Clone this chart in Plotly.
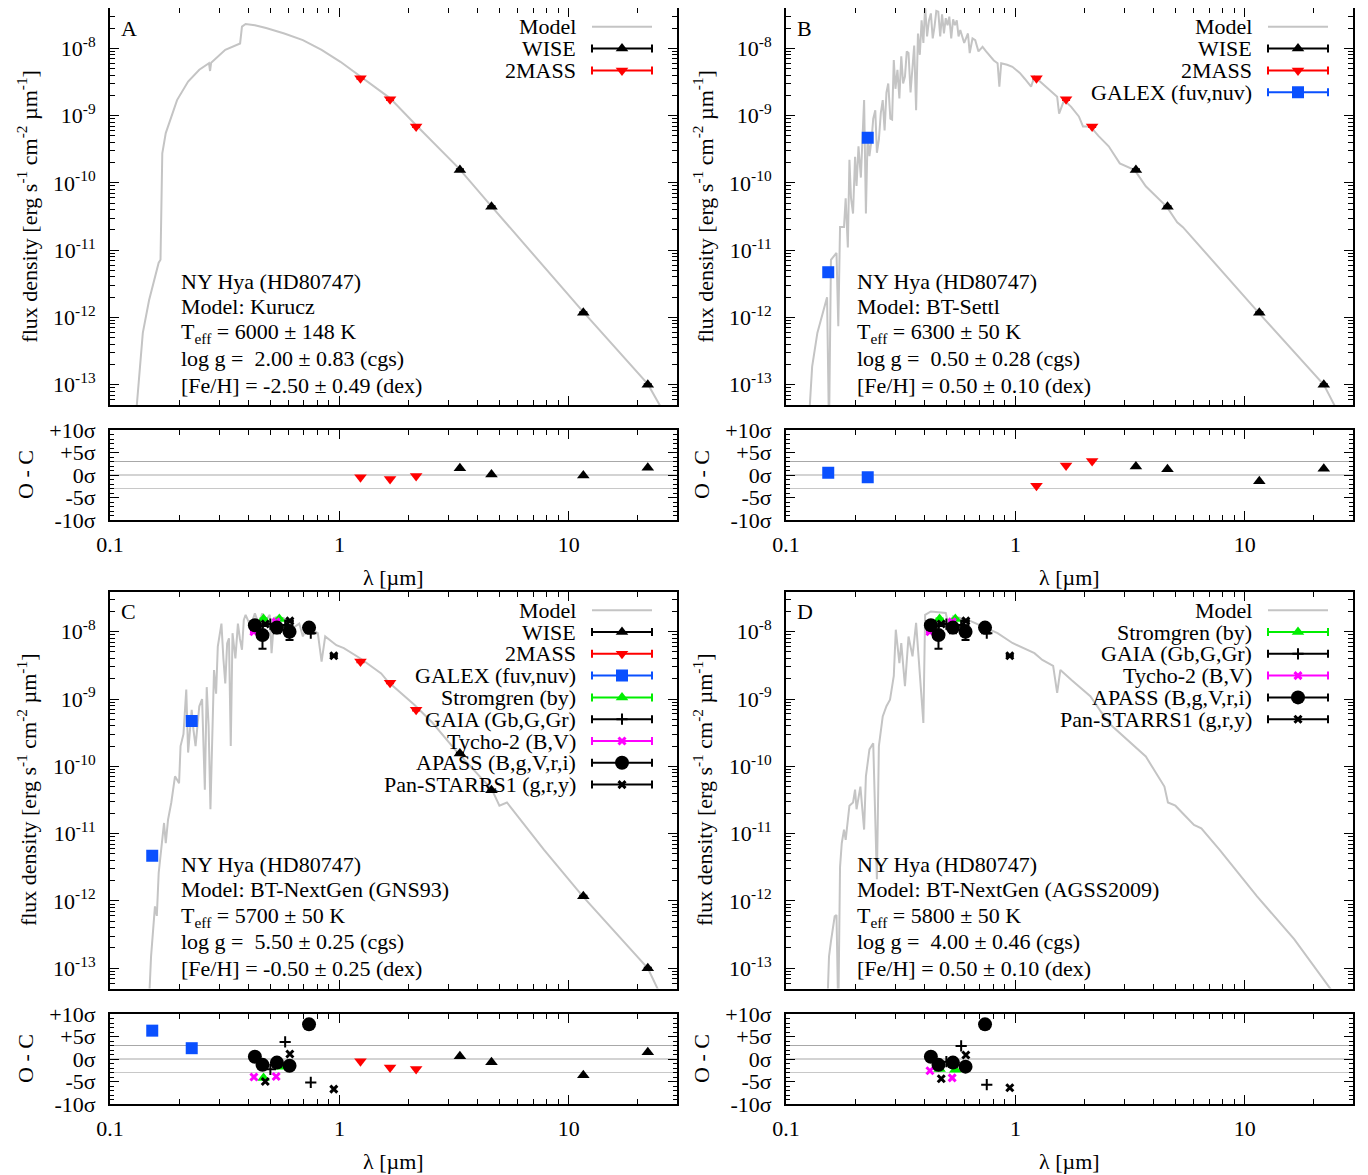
import numpy as np
import plotly.graph_objects as go

W, H = 1368, 1175
FONT = "Liberation Serif"
FS = 22
PAGE_OFFSET = 8  # the page body margin shifts the figure by this many pixels

# ---------------- photometry (wavelength in micron, flux in erg/s/cm2/um) ----------------
LAM_2MASS = [1.235, 1.662, 2.159]
FLUX_2MASS = [3.6e-9, 1.75e-9, 6.9e-10]
ERR_2MASS = [8e-11, 4e-11, 1.5e-11]

LAM_WISE = [3.35, 4.60, 11.56, 22.08]
FLUX_WISE = [1.55e-10, 4.4e-11, 1.17e-12, 1.0e-13]
ERR_WISE = [4e-12, 1e-12, 2e-14, 2e-15]

LAM_GALEX = [0.1528, 0.2271]
FLUX_GALEX = [4.7e-12, 4.7e-10]
ERR_GALEX = [2e-13, 1e-11]

LAM_STROM = [0.467, 0.547]
FLUX_STROM = [1.55e-8, 1.55e-8]
ERR_STROM = [2e-10, 2e-10]

LAM_GAIA = [0.50, 0.58, 0.75]
FLUX_GAIA = [1.3e-8, 1.25e-8, 9.5e-9]
ERR_GAIA = [1e-10, 1e-10, 1e-10]

LAM_TYCHO = [0.424, 0.530]
FLUX_TYCHO = [1.0e-8, 1.4e-8]
ERR_TYCHO = [3e-10, 3e-10]

LAM_APASS = [0.428, 0.462, 0.534, 0.606, 0.737]
FLUX_APASS = [1.25e-8, 8.9e-9, 1.15e-8, 1.0e-8, 1.15e-8]
ERR_APASS = [1.0e-9, 3.3e-9, 2.0e-9, 2.5e-9, 1.0e-9]

LAM_PS = [0.475, 0.608, 0.945]
FLUX_PS = [1.3e-8, 1.45e-8, 4.4e-9]
ERR_PS = [2e-10, 2e-10, 1e-10]

# ---------------- residuals (O - C in sigma) ----------------
RES_A_2MASS = [-0.5, -0.9, -0.2]
RES_A_WISE = [1.5, 0.1, -0.1, 1.6]

RES_B_GALEX = [0.5, -0.5]
RES_B_2MASS = [-2.4, 2.1, 3.1]
RES_B_WISE = [1.9, 1.3, -1.4, 1.4]

RES_C_GALEX = [6.3, 2.4]
RES_C_2MASS = [-0.5, -1.9, -2.2]
RES_C_WISE = [0.6, -0.7, -3.6, 1.5]
RES_C_STROM = [-4.2, -1.7]
RES_C_GAIA = [-2.3, 3.8, -5.2]
RES_C_TYCHO = [-4.0, -3.9]
RES_C_APASS = [0.5, -1.3, -0.8, -1.5, 7.7]
RES_C_PS = [-5.0, 1.1, -6.7]

RES_D_STROM = [-2.2, -2.4]
RES_D_GAIA = [-0.6, 2.9, -5.7]
RES_D_TYCHO = [-2.6, -4.2]
RES_D_APASS = [0.5, -1.3, -0.8, -1.7, 7.7]
RES_D_PS = [-4.4, 0.9, -6.4]

# ---------------- model spectra ----------------
MODEL_A_LAM = [0.128, 0.139, 0.148, 0.163, 0.166, 0.169, 0.175, 0.179, 0.196, 0.219, 0.245,
               0.270, 0.273, 0.276, 0.318, 0.369, 0.376, 0.390, 0.428, 0.479, 0.575, 0.693,
               0.836, 1.01, 1.235, 1.66, 2.16, 3.31, 4.57, 11.5, 22.1, 25.5]
MODEL_A_FLUX = [2e-14, 5.9e-13, 1.8e-12, 6.5e-12, 7.2e-12, 2.75e-10, 5.5e-10, 6.9e-10, 1.7e-9, 3.2e-9, 4.8e-9,
                6.0e-9, 4.6e-9, 6.1e-9, 9.5e-9, 1.18e-8, 2.1e-8, 2.3e-8, 2.2e-8, 2.0e-8, 1.66e-8, 1.32e-8,
                9.5e-9, 6.3e-9, 3.8e-9, 1.82e-9, 7.2e-10, 1.66e-10, 4.6e-11, 1.23e-12, 1.02e-13, 4.3e-14]

MODEL_B_LAM = [0.125, 0.130, 0.137, 0.151, 0.154, 0.157, 0.166, 0.169, 0.172, 0.179,
               0.182, 0.186, 0.189, 0.192, 0.196, 0.200, 0.203, 0.207, 0.212, 0.216,
               0.219, 0.223, 0.227, 0.231, 0.236, 0.240, 0.245, 0.249, 0.254, 0.259,
               0.264, 0.269, 0.274, 0.279, 0.285, 0.290, 0.295, 0.300, 0.306, 0.312,
               0.318, 0.324, 0.330, 0.336, 0.342, 0.349, 0.356, 0.362, 0.369, 0.376,
               0.383, 0.390, 0.397, 0.404, 0.412, 0.420, 0.428, 0.436, 0.444, 0.452,
               0.461, 0.470, 0.479, 0.488, 0.497, 0.506, 0.515, 0.525, 0.535, 0.545,
               0.555, 0.565, 0.575, 0.598, 0.621, 0.632, 0.650, 0.668, 0.690, 0.719,
               0.745, 0.776, 0.805, 0.836, 0.851, 0.867, 0.920, 0.970, 1.045, 1.10,
               1.17, 1.21, 1.31, 1.40, 1.52, 1.55, 1.63, 1.75, 1.89, 1.97,
               2.12, 2.30, 2.55, 2.85, 3.31, 3.70, 4.57, 5.07, 5.37, 11.5,
               22.1, 25.1]
MODEL_B_FLUX = [2e-14, 1.86e-13, 5.9e-13, 2.0e-12, 2e-14, 7.2e-12, 9.1e-12, 7.4e-13, 2.2e-11, 2.2e-11,
                5.9e-11, 1.1e-11, 2.2e-10, 6e-11, 3.5e-11, 2.45e-10, 9e-11, 3.5e-10, 1.2e-10, 6e-10,
                1.7e-9, 3.5e-11, 5.5e-10, 2.5e-10, 4.4e-10, 9e-10, 1.2e-9, 2.8e-10, 4.4e-10, 1.1e-9,
                1.7e-9, 6e-10, 2.2e-9, 3.0e-9, 9e-10, 8.7e-10, 6.7e-9, 2.5e-9, 4.8e-9, 1.8e-9,
                7.6e-9, 3.0e-9, 3.8e-9, 9e-9, 8.5e-9, 2.2e-9, 6.0e-9, 1.1e-8, 1.2e-9, 1.66e-8,
                8e-9, 2.6e-8, 1.2e-8, 4.2e-8, 1.5e-8, 2.6e-8, 3.3e-8, 1.4e-8, 2.1e-8, 3.6e-8,
                3.5e-8, 1.5e-8, 3.2e-8, 1.66e-8, 2.8e-8, 2.2e-8, 2.95e-8, 1.4e-8, 2.7e-8, 2.2e-8,
                2.6e-8, 1.5e-8, 1.87e-8, 1.2e-8, 1.66e-8, 8.5e-9, 1.4e-8, 1.32e-8, 9e-9, 1.05e-8,
                9.0e-9, 7.6e-9, 6.6e-9, 6.0e-9, 2.7e-9, 6.0e-9, 5.7e-9, 5.3e-9, 4.3e-9, 3.5e-9,
                2.7e-9, 3.8e-9, 3.0e-9, 2.5e-9, 1.9e-9, 1.07e-9, 1.7e-9, 1.35e-9, 9.7e-10, 6.9e-10,
                6.9e-10, 5.0e-10, 3.5e-10, 1.95e-10, 1.55e-10, 8.9e-11, 4.4e-11, 2.6e-11, 2.2e-11, 1.17e-12,
                1.0e-13, 4.3e-14]

MODEL_C_LAM = [0.147, 0.151, 0.157, 0.160, 0.163, 0.169, 0.172, 0.175, 0.179, 0.185,
               0.192, 0.200, 0.203, 0.209, 0.215, 0.219, 0.227, 0.231, 0.236, 0.245,
               0.252, 0.259, 0.264, 0.269, 0.274, 0.284, 0.290, 0.295, 0.306, 0.312,
               0.318, 0.324, 0.330, 0.336, 0.342, 0.352, 0.361, 0.368, 0.376, 0.383,
               0.390, 0.410, 0.428, 0.445, 0.461, 0.480, 0.497, 0.506, 0.520, 0.535,
               0.575, 0.620, 0.668, 0.693, 0.719, 0.805, 0.836, 0.867, 0.970, 1.045,
               1.235, 1.52, 1.63, 2.12, 2.55, 3.19, 4.62, 4.98, 5.37, 7.78,
               11.5, 22.1, 25.1]
MODEL_C_FLUX = [2e-14, 1.5e-13, 8.3e-13, 6.0e-13, 2.6e-12, 8.1e-12, 1.44e-11, 7.2e-12, 1.6e-11, 2.9e-11,
                7.1e-11, 5.6e-11, 2.0e-10, 3.0e-10, 1.38e-9, 1.6e-10, 6.9e-10, 3.5e-10, 2.0e-10, 7.8e-10,
                1.0e-9, 4.5e-11, 1.5e-9, 4.0e-10, 2.3e-11, 2.7e-9, 1.2e-9, 6.0e-9, 1.32e-8, 4.0e-9,
                1.7e-9, 6.7e-9, 8.0e-9, 2.0e-10, 9.5e-9, 4.0e-9, 1.32e-8, 8.0e-9, 5.4e-9, 1.5e-8,
                1.78e-8, 1.2e-8, 1.87e-8, 1.3e-8, 1.87e-8, 1.5e-8, 1.78e-8, 4.8e-9, 1.6e-8, 1.67e-8,
                1.58e-8, 1.1e-8, 1.32e-8, 8.5e-9, 1.19e-8, 9.5e-9, 3.6e-9, 8.5e-9, 6.3e-9, 5.7e-9,
                4.0e-9, 2.4e-9, 1.8e-9, 8.2e-10, 4.4e-10, 1.77e-10, 4.5e-11, 2.6e-11, 2.9e-11, 5.8e-12,
                1.17e-12, 1.0e-13, 4e-14]

MODEL_D_LAM = [0.151, 0.154, 0.157, 0.163, 0.166, 0.169, 0.172, 0.175, 0.179, 0.182,
               0.189, 0.196, 0.200, 0.203, 0.211, 0.219, 0.223, 0.231, 0.240, 0.249,
               0.254, 0.264, 0.274, 0.284, 0.295, 0.301, 0.312, 0.318, 0.330, 0.342,
               0.356, 0.369, 0.397, 0.404, 0.428, 0.497, 0.515, 0.535, 0.621, 0.719,
               0.836, 0.970, 1.21, 1.31, 1.46, 1.52, 1.57, 1.76, 2.12, 2.55,
               3.07, 3.70, 4.46, 4.62, 4.98, 6.0, 6.46, 7.78, 11.3, 16.4, 24.7]
MODEL_D_FLUX = [2e-14, 1.5e-13, 2.5e-13, 5.9e-13, 6.2e-13, 2e-14, 3.2e-12, 7.2e-12, 1.15e-11, 8.1e-12,
                2.6e-11, 2.9e-11, 4.5e-11, 2.3e-11, 5.0e-11, 1.15e-11, 7.1e-11, 1.78e-10, 2.2e-10, 2.1e-12,
                2.0e-10, 5.5e-10, 7.8e-10, 9.8e-10, 2.2e-9, 1.07e-8, 3.4e-9, 6.8e-9, 1.55e-9, 8.5e-9,
                4.3e-9, 1.35e-8, 4.4e-10, 1.78e-8, 2.0e-8, 1.9e-8, 1.07e-8, 1.7e-8, 1.5e-8, 1.2e-8,
                9.5e-9, 6.8e-9, 4.8e-9, 3.8e-9, 3.1e-9, 1.23e-9, 2.7e-9, 1.9e-9, 1.1e-9, 4.4e-10,
                2.5e-10, 1.4e-10, 5.0e-11, 2.9e-11, 2.6e-11, 1.35e-11, 1.2e-11, 5.7e-12, 1.17e-12, 2.7e-13, 4e-14]

INFO_A = ["NY Hya (HD80747)", "Model: Kurucz", "T<sub>eff</sub> = 6000 ± 148 K",
          "log g = \u00a02.00 ± 0.83 (cgs)", "[Fe/H] = -2.50 ± 0.49 (dex)"]
INFO_B = ["NY Hya (HD80747)", "Model: BT-Settl", "T<sub>eff</sub> = 6300 ± 50 K",
          "log g = \u00a00.50 ± 0.28 (cgs)", "[Fe/H] = 0.50 ± 0.10 (dex)"]
INFO_C = ["NY Hya (HD80747)", "Model: BT-NextGen (GNS93)", "T<sub>eff</sub> = 5700 ± 50 K",
          "log g = \u00a05.50 ± 0.25 (cgs)", "[Fe/H] = -0.50 ± 0.25 (dex)"]
INFO_D = ["NY Hya (HD80747)", "Model: BT-NextGen (AGSS2009)", "T<sub>eff</sub> = 5800 ± 50 K",
          "log g = \u00a04.00 ± 0.46 (cgs)", "[Fe/H] = 0.50 ± 0.10 (dex)"]

# ---------------- styles ----------------
STYLE = {
    "WISE": dict(symbol="triangle-up", color="black", size=11, label="WISE"),
    "2MASS": dict(symbol="triangle-down", color="#ff0000", size=11, label="2MASS"),
    "GALEX": dict(symbol="square", color="#0a50ff", size=12, label="GALEX (fuv,nuv)"),
    "STROM": dict(symbol="triangle-up", color="#00ee00", size=11, label="Stromgren (by)"),
    "GAIA": dict(symbol="cross-thin", color="black", size=8, label="GAIA (Gb,G,Gr)", lw=2),
    "TYCHO": dict(symbol="x-thin", color="#ff00ff", size=7, label="Tycho-2 (B,V)", lw=3),
    "APASS": dict(symbol="circle", color="black", size=14, label="APASS (B,g,V,r,i)"),
    "PS": dict(symbol="x-thin", color="black", size=7, label="Pan-STARRS1 (g,r,y)", lw=3),
}
DATA = {
    "WISE": (LAM_WISE, FLUX_WISE, ERR_WISE),
    "2MASS": (LAM_2MASS, FLUX_2MASS, ERR_2MASS),
    "GALEX": (LAM_GALEX, FLUX_GALEX, ERR_GALEX),
    "STROM": (LAM_STROM, FLUX_STROM, ERR_STROM),
    "GAIA": (LAM_GAIA, FLUX_GAIA, ERR_GAIA),
    "TYCHO": (LAM_TYCHO, FLUX_TYCHO, ERR_TYCHO),
    "APASS": (LAM_APASS, FLUX_APASS, ERR_APASS),
    "PS": (LAM_PS, FLUX_PS, ERR_PS),
}

PANELS = [
    dict(letter="A", x0=110, x1=677, ytop=8.3, ybot=405, rtop=430, rbot=520,
         model=(MODEL_A_LAM, MODEL_A_FLUX), info=INFO_A,
         sets=[("WISE", RES_A_WISE), ("2MASS", RES_A_2MASS)]),
    dict(letter="B", x0=786, x1=1353, ytop=8.3, ybot=405, rtop=430, rbot=520,
         model=(MODEL_B_LAM, MODEL_B_FLUX), info=INFO_B,
         sets=[("WISE", RES_B_WISE), ("2MASS", RES_B_2MASS), ("GALEX", RES_B_GALEX)]),
    dict(letter="C", x0=110, x1=677, ytop=591.7, ybot=988.5, rtop=1014, rbot=1104,
         model=(MODEL_C_LAM, MODEL_C_FLUX), info=INFO_C,
         sets=[("WISE", RES_C_WISE), ("2MASS", RES_C_2MASS), ("GALEX", RES_C_GALEX),
               ("STROM", RES_C_STROM), ("GAIA", RES_C_GAIA), ("TYCHO", RES_C_TYCHO),
               ("APASS", RES_C_APASS), ("PS", RES_C_PS)]),
    dict(letter="D", x0=786, x1=1353, ytop=591.7, ybot=988.5, rtop=1014, rbot=1104,
         model=(MODEL_D_LAM, MODEL_D_FLUX), info=INFO_D,
         sets=[("STROM", RES_D_STROM), ("GAIA", RES_D_GAIA), ("TYCHO", RES_D_TYCHO),
               ("APASS", RES_D_APASS), ("PS", RES_D_PS)]),
]


def fx(p):
    return (p - PAGE_OFFSET) / W


def fy(p):
    return 1 - (p - PAGE_OFFSET) / H


def ax_names(idx):
    s = "" if idx == 1 else str(idx)
    return "xaxis" + s, "yaxis" + s, "x" + s, "y" + s


XMINOR = [m * 10.0 ** e for e in range(-1, 2) for m in range(2, 10)]
YMINOR = [m * 10.0 ** e for e in range(-14, -7) for m in range(2, 10)]
TICKFONT = dict(family=FONT, size=FS, color="black")
TXT = dict(family=FONT, size=FS, color="black")
MODEL_COLOR = "#c4c4c4"

fig = go.Figure()
layout = dict(width=W, height=H, margin=dict(l=0, r=0, t=0, b=0, pad=0, autoexpand=False),
              autosize=False, showlegend=False,
              paper_bgcolor="white", plot_bgcolor="rgba(0,0,0,0)",
              font=dict(family=FONT, size=FS, color="black"))
annotations = []
shapes = []


def base_axis():
    return dict(showline=True, linewidth=2, linecolor="black", mirror="ticks",
                ticks="inside", ticklen=9, tickwidth=1.3, tickcolor="black",
                showgrid=False, zeroline=False, tickfont=TICKFONT, automargin=False)


def marker_for(st):
    lw = st.get("lw", 0)
    return dict(symbol=st["symbol"], color=st["color"], size=st["size"],
                line=dict(color=st["color"], width=lw))


for i, p in enumerate(PANELS):
    mi, ri, li = 2 * i + 1, 2 * i + 2, 9 + i
    mxa, mya, mx, my = ax_names(mi)
    rxa, rya, rx, ry = ax_names(ri)
    lxa, lya, lx, ly = ax_names(li)
    xdom = [fx(p["x0"]), fx(p["x1"])]
    mdom = [fy(p["ybot"]), fy(p["ytop"])]
    rdom = [fy(p["rbot"]), fy(p["rtop"])]

    ax = base_axis()
    ax.update(type="log", domain=xdom, anchor=my, range=[-1, np.log10(29.6)],
              tickmode="array", tickvals=[0.1, 1, 10], showticklabels=False,
              minor=dict(ticks="inside", ticklen=5, tickwidth=1, tickcolor="black",
                         tickmode="array", tickvals=XMINOR, showgrid=False))
    layout[mxa] = ax
    ay = base_axis()
    ay.update(type="log", domain=mdom, anchor=mx, range=[np.log10(5e-14), np.log10(3.93e-8)],
              tickmode="array", tickvals=[1e-13, 1e-12, 1e-11, 1e-10, 1e-9, 1e-8],
              ticktext=["10<sup>-13</sup>", "10<sup>-12</sup>", "10<sup>-11</sup>",
                        "10<sup>-10</sup>", "10<sup>-9</sup>", "10<sup>-8</sup>"],
              ticklabelstandoff=8,
              minor=dict(ticks="inside", ticklen=5, tickwidth=1, tickcolor="black",
                         tickmode="array", tickvals=YMINOR, showgrid=False))
    layout[mya] = ay

    rxax = base_axis()
    rxax.update(type="log", domain=xdom, anchor=ry, range=[-1, np.log10(29.6)],
                tickmode="array", tickvals=[0.1, 1, 10], ticktext=["0.1", "1", "10"],
                ticklabelstandoff=4,
                minor=dict(ticks="inside", ticklen=5, tickwidth=1, tickcolor="black",
                           tickmode="array", tickvals=XMINOR, showgrid=False))
    layout[rxa] = rxax
    ryax = base_axis()
    ryax.update(domain=rdom, anchor=rx, range=[-10, 10], tickmode="array",
                tickvals=[-10, -5, 0, 5, 10],
                ticktext=["-10σ", "-5σ", "0σ", "+5σ", "+10σ"], ticklabelstandoff=8,
                minor=dict(ticks="inside", ticklen=4, tickwidth=1, tickcolor="black",
                           tickmode="linear", tick0=0, dtick=1, showgrid=False))
    layout[rya] = ryax

    layout[lxa] = dict(domain=xdom, anchor=ly, range=[0, 1], visible=False, fixedrange=True)
    layout[lya] = dict(domain=mdom, anchor=lx, range=[0, 1], visible=False, fixedrange=True)

    for v, c in [(3, "#a8a8a8"), (0, "#a8a8a8"), (-3, "#c8c8c8")]:
        shapes.append(dict(type="line", xref=rx + " domain", yref=ry, x0=0, x1=1, y0=v, y1=v,
                           line=dict(color=c, width=1.2), layer="below"))

    mlam, mflux = p["model"]
    fig.add_trace(go.Scatter(x=mlam, y=mflux, mode="lines", xaxis=mx, yaxis=my,
                             line=dict(color=MODEL_COLOR, width=2), hoverinfo="skip"))

    for key, res in p["sets"]:
        lam, flux, err = DATA[key]
        st = STYLE[key]
        fig.add_trace(go.Scatter(x=lam, y=flux, mode="markers", xaxis=mx, yaxis=my,
                                 marker=marker_for(st),
                                 error_y=dict(type="data", array=err, color=st["color"],
                                              thickness=2, width=4)))
        fig.add_trace(go.Scatter(x=lam, y=res, mode="markers", xaxis=rx, yaxis=ry,
                                 marker=marker_for(st)))

    pw = p["x1"] - p["x0"]
    ph = p["ybot"] - p["ytop"]
    keys = ["MODEL"] + [k for k, _ in p["sets"]]
    if p["letter"] == "C":
        keys = ["MODEL", "WISE", "2MASS", "GALEX", "STROM", "GAIA", "TYCHO", "APASS", "PS"]
    for r, key in enumerate(keys):
        yrow = 1 - (18.5 + 21.8 * r) / ph
        xtxt = 468 / pw
        xc = 512 / pw
        hw = 30 / pw
        if key == "MODEL":
            label = "Model"
            fig.add_trace(go.Scatter(x=[xc - hw, xc + hw], y=[yrow, yrow], mode="lines",
                                     xaxis=lx, yaxis=ly,
                                     line=dict(color=MODEL_COLOR, width=2), hoverinfo="skip"))
        else:
            st = STYLE[key]
            label = st["label"]
            fig.add_trace(go.Scatter(x=[xc], y=[yrow], mode="markers", xaxis=lx, yaxis=ly,
                                     marker=marker_for(st),
                                     error_x=dict(type="data", array=[hw], color=st["color"],
                                                  thickness=2, width=4), hoverinfo="skip"))
        annotations.append(dict(x=xtxt, y=yrow, xref=lx, yref=ly, text=label, showarrow=False,
                                xanchor="right", yanchor="middle", font=TXT))

    annotations.append(dict(x=fx(p["x0"] + 9), y=fy(p["ytop"] + 20), xref="paper", yref="paper",
                            text=p["letter"], showarrow=False, xanchor="left", yanchor="middle",
                            font=TXT))
    offs = [273, 298, 325, 350, 377]
    for t, o in zip(p["info"], offs):
        annotations.append(dict(x=fx(p["x0"] + 69), y=fy(p["ytop"] + o), xref="paper", yref="paper",
                                text=t, showarrow=False, xanchor="left", yanchor="middle",
                                font=TXT))
    annotations.append(dict(x=fx(p["x0"] - 83), y=fy((p["ytop"] + p["ybot"]) / 2), xref="paper",
                            yref="paper", textangle=-90, showarrow=False,
                            xanchor="center", yanchor="middle",
                            text="flux density [erg s<sup>-1</sup> cm<sup>-2</sup> µm<sup>-1</sup>]",
                            font=TXT))
    annotations.append(dict(x=fx(p["x0"] - 85), y=fy((p["rtop"] + p["rbot"]) / 2), xref="paper",
                            yref="paper", textangle=-90, showarrow=False, text="O - C",
                            xanchor="center", yanchor="middle", font=TXT))
    annotations.append(dict(x=fx((p["x0"] + p["x1"]) / 2), y=fy(p["rbot"] + 57), xref="paper",
                            yref="paper", showarrow=False, text="λ [µm]",
                            xanchor="center", yanchor="middle", font=TXT))

layout["annotations"] = annotations
layout["shapes"] = shapes
fig.update_layout(**layout)
fig.write_html("out.html")
